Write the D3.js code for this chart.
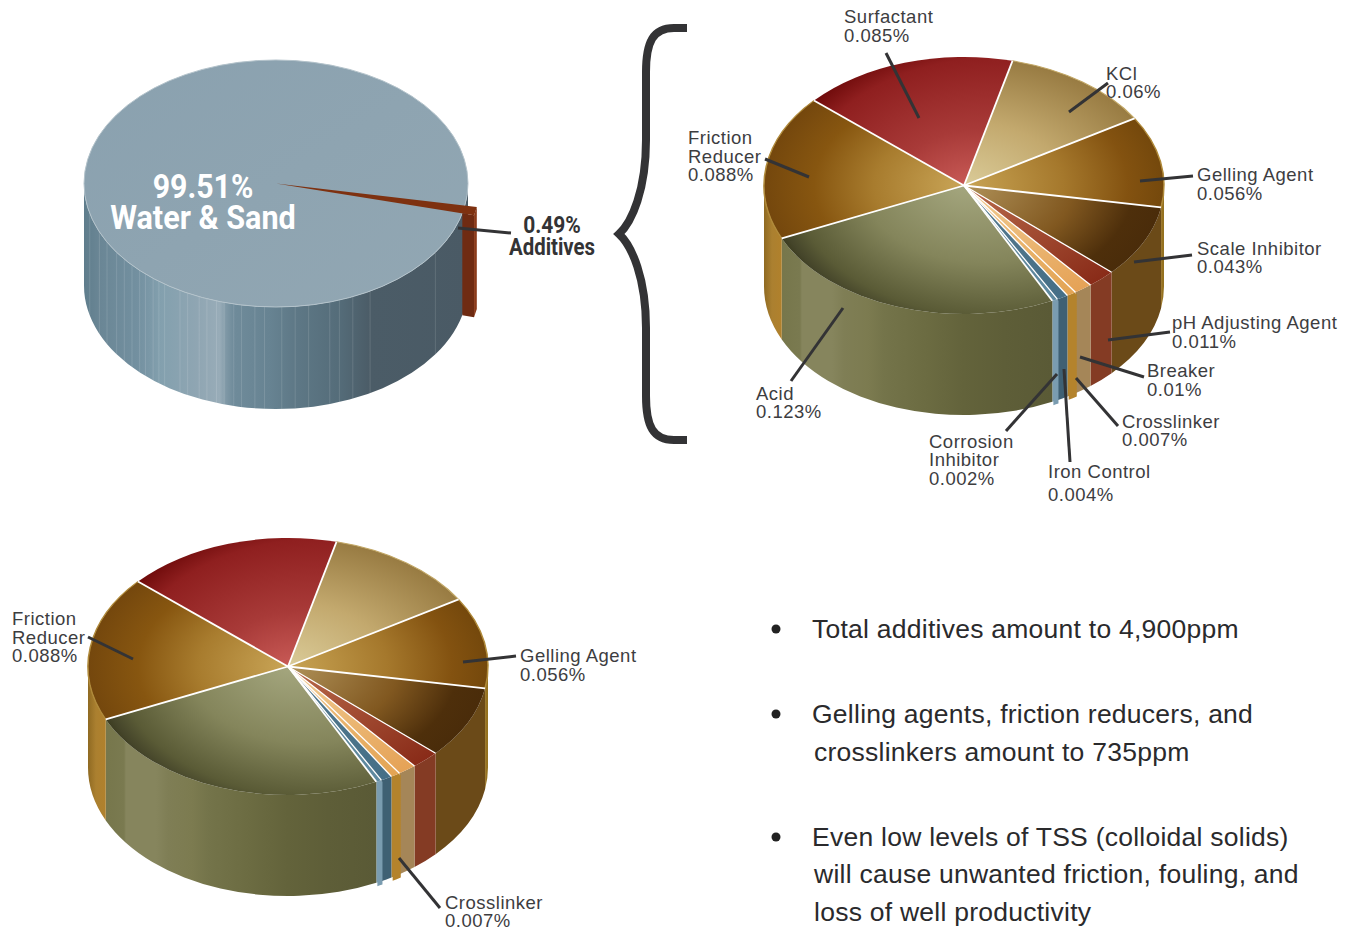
<!DOCTYPE html>
<html>
<head>
<meta charset="utf-8">
<script src="https://cdn.jsdelivr.net/npm/d3@7"></script>
<style>
  html, body { margin: 0; background: #fff; }
  svg { display: block; }
  text { font-family: "Liberation Sans", sans-serif; }
</style>
</head>
<body>
<div id="chart"></div>
<script>
// data
var additiveNames = ["Surfactant", "KCl", "Gelling Agent", "Scale Inhibitor", "pH Adjusting Agent", "Breaker", "Crosslinker", "Iron Control", "Corrosion Inhibitor", "Acid", "Friction Reducer"];
// wedge sizes as drawn in the picture, they differ a little from the printed percentages in the labels
var additiveValues = [0.085, 0.0604, 0.056, 0.0443, 0.0113, 0.0073, 0.0037, 0.0045, 0.0022, 0.1247, 0.0892];
var waterSand = 99.51;
var additivesTotal = 0.49;
var bullets = [
  ["Total additives amount to 4,900ppm"],
  ["Gelling agents, friction reducers, and", "crosslinkers amount to 735ppm"],
  ["Even low levels of TSS (colloidal solids)", "will cause unwanted friction, fouling, and", "loss of well productivity"]
];

// styling, same order as additiveNames. top = radial stops, wall = stops across the pie's width
var topStops = [
  [[0, "#c85a56"], [0.35, "#a83a38"], [0.8, "#8f1f1f"], [1, "#640404"]],
  [[0, "#dacb98"], [0.5, "#c3a96e"], [1, "#987b42"]],
  [[0, "#c8a454"], [0.5, "#a5782c"], [0.82, "#835210"], [1, "#74480c"]],
  [[0, "#b09259"], [0.55, "#815820"], [0.85, "#4e2f0b"], [1, "#4a2c0a"]],
  [[0, "#ba6c4c"], [1, "#892b18"]],
  [[0, "#f1cd94"], [1, "#e5a256"]],
  [[0, "#f0c488"], [1, "#e3a454"]],
  [[0, "#55798d"], [1, "#456f87"]],
  [[0, "#5e8398"], [1, "#5f8aa0"]],
  [[0, "#a4a67e"], [0.5, "#84855b"], [0.85, "#5a5b36"], [0.95, "#45452a"], [1, "#38381b"]],
  [[0, "#c9a557"], [0.45, "#a87c2e"], [0.75, "#875610"], [1, "#74470d"]]
];
var wallStops = [
  [[0, "#8f1e1e"], [1, "#8f1e1e"]],
  [[0, "#a58658"], [1, "#a58658"]],
  [[0.97, "#7a5618"], [0.985, "#a27a26"], [1, "#93701f"]],
  [[0.8, "#6b4a18"], [0.98, "#6b4a18"]],
  [[0, "#843b24"], [1, "#843b24"]],
  [[0, "#a58658"], [1, "#a58658"]],
  [[0, "#b4832c"], [1, "#b4832c"]],
  [[0, "#3f6073"], [1, "#3f6073"]],
  [[0, "#7a9cb0"], [1, "#7a9cb0"]],
  [[0.05, "#77774c"], [0.09, "#7a7a50"], [0.095, "#86855d"], [0.17, "#86855d"], [0.2, "#7f7e55"], [0.26, "#7c7b50"], [0.3, "#74744a"], [0.4, "#6c6c42"], [0.5, "#63633b"], [0.6, "#5e5e38"], [0.72, "#5a5a36"]],
  [[0, "#8f6a22"], [0.02, "#ab8030"], [0.05, "#b2812b"]]
];
var gradShift = [50, 0, 0, 0, 0, 0, 0, 0, 0, 40, 0];
var poppedWalls = ["Crosslinker", "Corrosion Inhibitor"]; // these stick out of the wall a bit
var waterWall = [[0, "#5f7d8c"], [0.04, "#6a8695"], [0.14, "#7390a0"], [0.2, "#83a0ae"], [0.3, "#90a6b3"], [0.354, "#98acb8"], [0.37, "#7f98a6"], [0.39, "#6f8b9a"], [0.484, "#678392"], [0.55, "#5e7886"], [0.66, "#556d7a"], [0.745, "#4b5c67"], [1, "#4a5a65"]];
// faint vertical seams in the water wall, as fractions of its width
var waterSeams = [0.015, 0.04, 0.06, 0.085, 0.105, 0.125, 0.145, 0.16, 0.18, 0.195, 0.21, 0.25, 0.27, 0.3, 0.32, 0.345, 0.365, 0.39, 0.41, 0.445, 0.47, 0.515, 0.55, 0.585, 0.64, 0.665, 0.7, 0.745, 0.915];

var rad = Math.PI / 180;
var svg = d3.select("#chart").append("svg").attr("width", 1357).attr("height", 929);
var defs = svg.append("defs");
var gradId = 0;

function addStops(grad, stops) {
  grad.selectAll("stop").data(stops).enter().append("stop")
    .attr("offset", function(d) { return d[0]; })
    .attr("stop-color", function(d) { return d[1]; });
}

function wallGradient(p, stops) {
  var id = "wall" + (gradId++);
  var grad = defs.append("linearGradient").attr("id", id)
    .attr("gradientUnits", "userSpaceOnUse")
    .attr("x1", p.cx - p.rx).attr("x2", p.cx + p.rx).attr("y1", 0).attr("y2", 0);
  addStops(grad, stops);
  return "url(#" + id + ")";
}

function topGradient(p, stops, shift) {
  var id = "top" + (gradId++);
  var grad = defs.append("radialGradient").attr("id", id)
    .attr("gradientUnits", "userSpaceOnUse")
    .attr("cx", shift).attr("cy", 0).attr("fx", 0).attr("fy", 0).attr("r", p.rx + shift);
  addStops(grad, stops);
  return "url(#" + id + ")";
}

function pt(p, a, r) {
  r = r || 1;
  return [p.cx + p.rx * r * Math.sin(a), p.cy - p.ry * r * Math.cos(a)];
}

// side wall between two angles, only the part that faces us
function wallPath(p, a0, a1, r, extra) {
  a0 = Math.max(a0, Math.PI / 2);
  a1 = Math.min(a1, Math.PI * 1.5);
  if (a1 <= a0) return null;
  r = r || 1;
  var h = p.h + (extra || 0);
  var s = pt(p, a0, r), e = pt(p, a1, r);
  var rr = (p.rx * r) + " " + (p.ry * r);
  return "M" + s + "A" + rr + " 0 0 1 " + e + "L" + e[0] + " " + (e[1] + h) +
    "A" + rr + " 0 0 0 " + s[0] + " " + (s[1] + h) + "Z";
}

function drawAdditivePie(p) {
  var g = svg.append("g");
  var arcs = d3.pie().sort(null).startAngle(-48.6 * rad).endAngle(311.4 * rad)(additiveValues);

  // walls first
  arcs.forEach(function(d, i) {
    var path = wallPath(p, d.startAngle, d.endAngle);
    if (path) g.append("path").attr("d", path).attr("fill", wallGradient(p, wallStops[i]));
  });
  arcs.forEach(function(d, i) {
    if (poppedWalls.indexOf(additiveNames[i]) < 0) return;
    g.append("path").attr("d", wallPath(p, d.startAngle, d.endAngle, 1.012, 2))
      .attr("fill", wallGradient(p, wallStops[i]));
  });

  // top face, d3.arc in a squashed group gives the ellipse
  var top = g.append("g").attr("transform", "translate(" + p.cx + "," + p.cy + ") scale(1," + (p.ry / p.rx) + ")");
  var arc = d3.arc().innerRadius(0).outerRadius(p.rx);
  top.selectAll("path").data(arcs).enter().append("path")
    .attr("d", arc)
    .attr("fill", function(d, i) { return topGradient(p, topStops[i], gradShift[i]); });

  // rim on the orange slices
  [2, 10].forEach(function(k) {
    var rim = d3.arc().innerRadius(p.rx).outerRadius(p.rx);
    top.append("path").attr("d", rim(arcs[k])).attr("fill", "none").attr("stroke", "#b08a3a").attr("stroke-width", 1.5);
  });
  top.append("path").attr("d", d3.arc().innerRadius(p.rx).outerRadius(p.rx)(arcs[1]))
    .attr("fill", "none").attr("stroke", "#c2a765").attr("stroke-width", 1.5);

  // white cuts between slices
  g.selectAll("line.cut").data(arcs).enter().append("line")
    .attr("class", "cut")
    .attr("x1", p.cx).attr("y1", p.cy)
    .attr("x2", function(d) { return pt(p, d.startAngle)[0]; })
    .attr("y2", function(d) { return pt(p, d.startAngle)[1]; })
    .attr("stroke", "#fff")
    .attr("stroke-width", function(d) { return d.value < 0.012 ? 1.3 : 1.8; });
}

function drawWaterPie(p) {
  var g = svg.append("g");
  // additives wedge is blown up about 2x, at true size it would not show like the original
  var boost = 2.1;
  var arcs = d3.pie().sort(null).startAngle(100.3 * rad).endAngle(460.3 * rad)([additivesTotal * boost, waterSand]);
  var cut = arcs[0];
  var out = 1.063;

  g.append("path").attr("d", wallPath(p, Math.PI / 2, Math.PI * 1.5)).attr("fill", wallGradient(p, waterWall));

  // seams run from the rim down the wall
  g.selectAll("line.seam").data(waterSeams).enter().append("line")
    .attr("class", "seam")
    .attr("x1", function(f) { return p.cx - p.rx + 2 * p.rx * f; })
    .attr("x2", function(f) { return p.cx - p.rx + 2 * p.rx * f; })
    .attr("y1", function(f) { var u = 2 * f - 1; return p.cy + p.ry * Math.sqrt(1 - u * u); })
    .attr("y2", function(f) { var u = 2 * f - 1; return p.cy + p.ry * Math.sqrt(1 - u * u) + p.h; })
    .attr("stroke", "#fff").attr("stroke-opacity", 0.13).attr("stroke-width", 1);

  var flat = defs.append("linearGradient").attr("id", "waterTop").attr("x1", 0).attr("x2", 1).attr("y1", 0).attr("y2", 1);
  addStops(flat, [[0, "#8aa1af"], [1, "#92a7b3"]]);
  g.append("ellipse").attr("cx", p.cx).attr("cy", p.cy).attr("rx", p.rx).attr("ry", p.ry)
    .attr("fill", "url(#waterTop)").attr("stroke", "#b4c3cb").attr("stroke-width", 1);

  // cut face of the wedge, from the main rim to its outer corner
  var a = cut.endAngle;
  var f0 = pt(p, a), f1 = pt(p, a, out);
  g.append("path")
    .attr("d", "M" + f0 + "L" + f1 + "L" + f1[0] + " " + (f1[1] + p.h) + "L" + f0[0] + " " + (f0[1] + p.h) + "Z")
    .attr("fill", "#6f2b12");
  // outer wall of the wedge
  var e0 = pt(p, cut.startAngle, out), e1 = pt(p, cut.endAngle, out);
  g.append("path")
    .attr("d", "M" + e0 + "L" + e1 + "L" + e1[0] + " " + (e1[1] + p.h) + "L" + e0[0] + " " + (e0[1] + p.h) + "Z")
    .attr("fill", "#8a3a1a");

  var top = g.append("g").attr("transform", "translate(" + p.cx + "," + p.cy + ") scale(1," + (p.ry / p.rx) + ")");
  top.append("path")
    .attr("d", d3.arc().innerRadius(0).outerRadius(p.rx * out)(cut))
    .attr("fill", "#7e3110");
}

var pieWater = {cx: 276, cy: 183.5, rx: 192, ry: 123.5, h: 102};
var pieTop = {cx: 964, cy: 185.5, rx: 200, ry: 128.5, h: 101};
var pieBottom = {cx: 288, cy: 666.5, rx: 200, ry: 128.5, h: 101};

drawWaterPie(pieWater);
drawAdditivePie(pieTop);
drawAdditivePie(pieBottom);

// curly brace
svg.append("path")
  .attr("d", "M687,28H674C653,28 646,42 646,72V140C646,190 632,222 619,234C632,246 646,278 646,328V396C646,426 653,440 674,440H687")
  .attr("fill", "none").attr("stroke", "#333335").attr("stroke-width", 8);

// leaders
var leaders = [
  [886, 53, 919, 118], [1108, 83, 1069, 112], [765, 159, 809, 177], [1193, 176, 1140, 181],
  [1192, 255, 1134, 262], [1170, 332, 1108, 340], [1144, 377, 1080, 357], [1118, 426, 1076, 378],
  [1070, 462, 1064, 369], [1006, 431, 1057, 374], [791, 381, 843, 308], [458, 228, 511, 233],
  [88, 637, 133, 659], [463, 662, 516, 656], [399, 858, 440, 908]
];
svg.selectAll("line.leader").data(leaders).enter().append("line")
  .attr("class", "leader")
  .attr("x1", function(d) { return d[0]; }).attr("y1", function(d) { return d[1]; })
  .attr("x2", function(d) { return d[2]; }).attr("y2", function(d) { return d[3]; })
  .attr("stroke", "#333335").attr("stroke-width", 3);

// slice labels: x, y of each line
var sliceLabels = [
  [844, 23, "Surfactant"], [844, 42, "0.085%"],
  [1106, 80, "KCl"], [1106, 98, "0.06%"],
  [688, 144, "Friction"], [688, 163, "Reducer"], [688, 181, "0.088%"],
  [1197, 181, "Gelling Agent"], [1197, 200, "0.056%"],
  [1197, 255, "Scale Inhibitor"], [1197, 273, "0.043%"],
  [1172, 329, "pH Adjusting Agent"], [1172, 348, "0.011%"],
  [1147, 377, "Breaker"], [1147, 396, "0.01%"],
  [1122, 428, "Crosslinker"], [1122, 446, "0.007%"],
  [929, 448, "Corrosion"], [929, 466, "Inhibitor"], [929, 485, "0.002%"],
  [1048, 478, "Iron Control"], [1048, 501, "0.004%"],
  [756, 400, "Acid"], [756, 418, "0.123%"],
  [12, 625, "Friction"], [12, 644, "Reducer"], [12, 662, "0.088%"],
  [520, 662, "Gelling Agent"], [520, 681, "0.056%"],
  [445, 909, "Crosslinker"], [445, 927, "0.007%"]
];
svg.selectAll("text.slice").data(sliceLabels).enter().append("text")
  .attr("class", "slice")
  .attr("x", function(d) { return d[0]; }).attr("y", function(d) { return d[1]; })
  .attr("font-size", 18.5).attr("letter-spacing", 0.5).attr("fill", "#3d3d3f")
  .text(function(d) { return d[2]; });

// condensed bold labels, squeezed Roboto since no condensed face is installed
function narrow(x, y, size, fill, str, squeeze) {
  svg.append("text")
    .attr("transform", "translate(" + x + "," + y + ") scale(" + squeeze + ",1)")
    .attr("text-anchor", "middle")
    .style("font-family", "Roboto")
    .attr("font-weight", 700).attr("font-size", size).attr("fill", fill)
    .text(str);
}
narrow(203, 198, 34, "#fff", waterSand + "%", 0.89);
narrow(203, 229, 34, "#fff", "Water & Sand", 0.9);
narrow(552, 233, 24, "#333335", additivesTotal + "%", 0.875);
narrow(552, 255, 24, "#333335", "Additives", 0.85);

// bullet list
var bulletY = [[638], [723, 761], [846, 883, 921]];
bullets.forEach(function(lines, i) {
  svg.append("circle").attr("cx", 776).attr("cy", bulletY[i][0] - 9).attr("r", 4.5).attr("fill", "#222");
  lines.forEach(function(line, j) {
    svg.append("text")
      .attr("x", j == 0 ? 812 : 814).attr("y", bulletY[i][j])
      .attr("font-size", 26.5).attr("letter-spacing", 0.25).attr("fill", "#2a2a2c")
      .text(line);
  });
});
</script>
</body>
</html>
